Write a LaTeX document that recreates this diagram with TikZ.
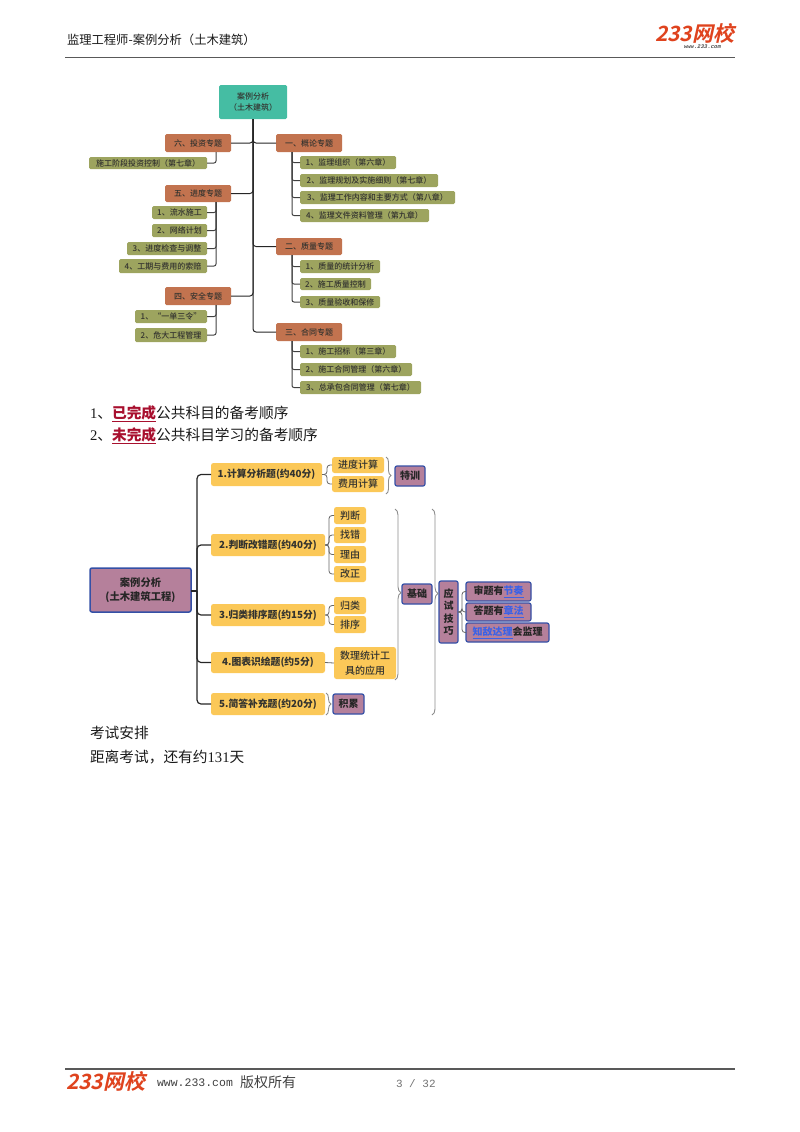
\documentclass[tikz,border=0pt]{standalone}
\usepackage{fontspec}
\usetikzlibrary{decorations.pathreplacing}
\setmainfont{Noto Sans CJK SC}
\newfontfamily\logofont[FakeSlant=0.22]{Noto Sans CJK SC Bold}
\newfontfamily\medf{Noto Sans CJK SC Medium}
\newfontfamily\monof{Liberation Mono}
\newfontfamily\serf{Liberation Serif}
\definecolor{tealc}{HTML}{45BDA3}
\definecolor{brownc}{HTML}{C2734F}
\definecolor{olivec}{HTML}{9DA45F}
\definecolor{purpc}{HTML}{B5809B}
\definecolor{purpb}{HTML}{3450A6}
\definecolor{orangec}{HTML}{FBC858}
\definecolor{txt}{HTML}{33332F}
\definecolor{linkb}{HTML}{3B62E6}
\definecolor{redt}{HTML}{A80F2E}
\definecolor{logoc}{HTML}{DF431E}
\newcommand{\fs}[1]{\fontsize{#1}{#1}\selectfont}
\newcommand{\bx}[7]{\node[#1,minimum width={(#5-#3)*1pt},minimum height={(#6-#4)*1pt}] (#2) at ({(#3+#5)/2},{(#4+#6)/2}) {#7};}
\tikzset{
  base/.style={inner sep=0pt,outer sep=0pt,rounded corners=1.5pt,text=txt,align=center},
  tealbox/.style={base,fill=tealc,font=\medf\fontsize{8}{11}\selectfont},
  brownbox/.style={base,fill=brownc,font=\medf\fs{8}},
  olivebox/.style={base,fill=olivec,font=\medf\fs{8}},
  orangebox/.style={base,fill=orangec,rounded corners=2.5pt,font=\medf\fontsize{10}{14.5}\selectfont},
  qbox/.style={orangebox,font=\fs{9.8}\bfseries},
  purpbox/.style={base,fill=purpc,draw=purpb,line width=1.2pt,rounded corners=2pt,text=black!85,font=\fontsize{10}{12.5}\selectfont\bfseries},
  rootbox/.style={purpbox,line width=1.5pt,font=\fontsize{10.3}{14.5}\selectfont\bfseries},
  trunk/.style={draw=black!85,line width=1pt,rounded corners=3pt},
  limb/.style={draw=black!75,line width=1pt,rounded corners=2pt},
  thin line/.style={draw=black!60,line width=0.8pt,rounded corners=3pt},
  brc/.style={draw=black!45,line width=0.9pt,decorate},
  plain/.style={inner sep=0pt,outer sep=0pt,anchor=west},
  body/.style={plain,font=\fs{14.7},text=black!90},
}
\begin{document}
\begin{tikzpicture}[x=1pt,y=-1pt]
\useasboundingbox (0,0) rectangle (800,1132);
% header
\node[plain,font=\fs{12.3},text=black!90] (head) at (67,40) {监理工程师-案例分析（土木建筑）};
\node[plain,font=\logofont\fs{21},text=logoc] (logoa) at (655,33.5) {233网校};
\node[plain,font=\monof\bfseries\itshape\fs{5.6},text=black!70] (logob) at (684,46.5) {www.233.com};
\coordinate (hl) at (65,57.5); \coordinate (hr) at (735,57.5);
\draw[black!65,line width=1.3pt] (hl) -- (hr);
% first map
\bx{tealbox}{r}{219}{85}{287}{119}{案例分析\\（土木建筑）}
\bx{brownbox}{t6}{165}{134}{231}{152}{六、投资专题}
\bx{olivebox}{t6a}{89}{157}{207}{169}{施工阶段投资控制（第七章）}
\bx{brownbox}{t5}{165}{185}{231}{202}{五、进度专题}
\bx{olivebox}{t5a}{152}{206}{207}{219}{1、流水施工}
\bx{olivebox}{t5b}{152}{224}{207}{237}{2、网络计划}
\bx{olivebox}{t5c}{127}{242}{207}{255}{3、进度检查与调整}
\bx{olivebox}{t5d}{119}{259}{207}{273}{4、工期与费用的索赔}
\bx{brownbox}{t4}{165}{287}{231}{305}{四、安全专题}
\bx{olivebox}{t4a}{135}{310}{207}{323}{1、“一单三令”}
\bx{olivebox}{t4b}{135}{328}{207}{342}{2、危大工程管理}
\bx{brownbox}{t1}{276}{134}{342}{152}{一、概论专题}
\bx{olivebox}{t1a}{300}{156}{396}{169}{1、监理组织（第六章）}
\bx{olivebox}{t1b}{300}{174}{438}{187}{2、监理规划及实施细则（第七章）}
\bx{olivebox}{t1c}{300}{191}{455}{204}{3、监理工作内容和主要方式（第八章）}
\bx{olivebox}{t1d}{300}{209}{429}{222}{4、监理文件资料管理（第九章）}
\bx{brownbox}{t2}{276}{238}{342}{255}{二、质量专题}
\bx{olivebox}{t2a}{300}{260}{380}{273}{1、质量的统计分析}
\bx{olivebox}{t2b}{300}{278}{371}{290}{2、施工质量控制}
\bx{olivebox}{t2c}{300}{296}{380}{308}{3、质量验收和保修}
\bx{brownbox}{t3}{276}{323}{342}{341}{三、合同专题}
\bx{olivebox}{t3a}{300}{345}{396}{358}{1、施工招标（第三章）}
\bx{olivebox}{t3b}{300}{363}{412}{376}{2、施工合同管理（第六章）}
\bx{olivebox}{t3c}{300}{381}{421}{394}{3、总承包合同管理（第七章）}
\foreach \n in {t1,t2,t3,t4,t5,t6} {\draw[trunk] (r.south) |- (\n);}
\foreach \n/\p in {t6a/t6,t5a/t5,t5b/t5,t5c/t5,t5d/t5,t4a/t4,t4b/t4}
  {\draw[limb] ([xshift=18pt]\p.south) |- (\n.east);}
\foreach \n/\p in {t1a/t1,t1b/t1,t1c/t1,t1d/t1,t2a/t2,t2b/t2,t2c/t2,t3a/t3,t3b/t3,t3c/t3}
  {\draw[limb] ([xshift=-17pt]\p.south) |- (\n.west);}
% text lines
\node[body] (l1) at (90,414) {{\serf 1}、\textcolor{redt}{\bfseries\underline{已完成}}公共科目的备考顺序};
\node[body] (l2) at (90,436) {{\serf 2}、\textcolor{redt}{\bfseries\underline{未完成}}公共科目学习的备考顺序};
\node[body] (l3) at (90,733) {考试安排};
\node[body] (l4) at (90,757) {距离考试，还有约{\serf 131}天};
% second map
\bx{rootbox}{m}{90}{568}{191}{612}{案例分析\\(土木建筑工程)}
\bx{qbox}{q1}{211}{463}{322}{486}{1.计算分析题(约40分)}
\bx{qbox}{q2}{211}{534}{325}{556}{2.判断改错题(约40分)}
\bx{qbox}{q3}{211}{604}{325}{626}{3.归类排序题(约15分)}
\bx{qbox}{q4}{211}{652}{325}{673}{4.图表识绘题(约5分)}
\bx{qbox}{q5}{211}{693}{325}{715}{5.简答补充题(约20分)}
\bx{orangebox}{a1}{332}{457}{384}{473}{进度计算}
\bx{orangebox}{a2}{332}{476}{384}{492}{费用计算}
\bx{orangebox}{b1}{334}{507}{366}{524}{判断}
\bx{orangebox}{b2}{334}{527}{366}{543}{找错}
\bx{orangebox}{b3}{334}{546}{366}{563}{理由}
\bx{orangebox}{b4}{334}{566}{366}{582}{改正}
\bx{orangebox}{c1}{334}{597}{366}{614}{归类}
\bx{orangebox}{c2}{334}{616}{366}{633}{排序}
\bx{orangebox}{d1}{334}{647}{396}{679}{数理统计工\\具的应用}
\bx{purpbox}{e1}{333}{694}{364}{714}{积累}
\bx{purpbox}{f1}{395}{466}{425}{486}{特训}
\bx{purpbox}{f2}{402}{584}{432}{604}{基础}
\bx{purpbox}{f3}{439}{581}{458}{643}{应\\试\\技\\巧}
\bx{purpbox}{g1}{466}{582}{531}{601}{审题有\textcolor{linkb}{\underline{节奏}}}
\bx{purpbox}{g2}{466}{603}{531}{621}{答题有\textcolor{linkb}{\underline{章法}}}
\bx{purpbox}{g3}{466}{623}{549}{642}{\textcolor{linkb}{\underline{知敌达理}}会监理}
\coordinate (mj) at (197,591);
\draw[trunk,line width=1.2pt] (m.east |- mj) -- (mj);
\foreach \n in {q1,q2,q3,q4,q5} {\draw[trunk,line width=1.2pt,rounded corners=4pt] (mj) |- (\n.west);}
\foreach \n in {a1,a2} {\draw[thin line] (q1.east) -- ++(5,0) |- (\n.west);}
\foreach \n in {b1,b2,b3,b4} {\draw[thin line] (q2.east) -- ++(4,0) |- (\n.west);}
\foreach \n in {c1,c2} {\draw[thin line] (q3.east) -- ++(4,0) |- (\n.west);}
\draw[thin line] (q4.east) -- (d1.west);
\foreach \n in {g1,g2,g3} {\draw[thin line] (f3.east) -- ++(4,0) |- (\n.west);}
% braces
\coordinate (ba) at (386,457); \coordinate (bb) at (386,494);
\draw[brc,decoration={brace,amplitude=5pt}] (ba) -- (bb);
\coordinate (bc) at (395,509); \coordinate (bd) at (395,680);
\draw[brc,decoration={brace,amplitude=6pt,aspect=0.49}] (bc) -- (bd);
\coordinate (be) at (432,509); \coordinate (bf) at (432,715);
\draw[brc,decoration={brace,amplitude=6pt,aspect=0.41}] (be) -- (bf);
\coordinate (bg) at (326,693); \coordinate (bh) at (326,715);
\draw[brc,decoration={brace,amplitude=5pt}] (bg) -- (bh);
% footer
\coordinate (fl) at (65,1069); \coordinate (fr) at (735,1069);
\draw[black!65,line width=1.3pt] (fl) -- (fr);
\node[plain,font=\logofont\fs{21},text=logoc] (flogo) at (66,1081) {233网校};
\node[plain,font=\monof\fs{11.5},text=black!75] (fw) at (157,1083) {www.233.com};
\node[plain,font=\fs{14},text=black!75] (fc) at (240,1082) {版权所有};
\node[plain,font=\monof\fs{11},text=black!55] (fp) at (396,1084) {3 / 32};
\end{tikzpicture}
\end{document}
